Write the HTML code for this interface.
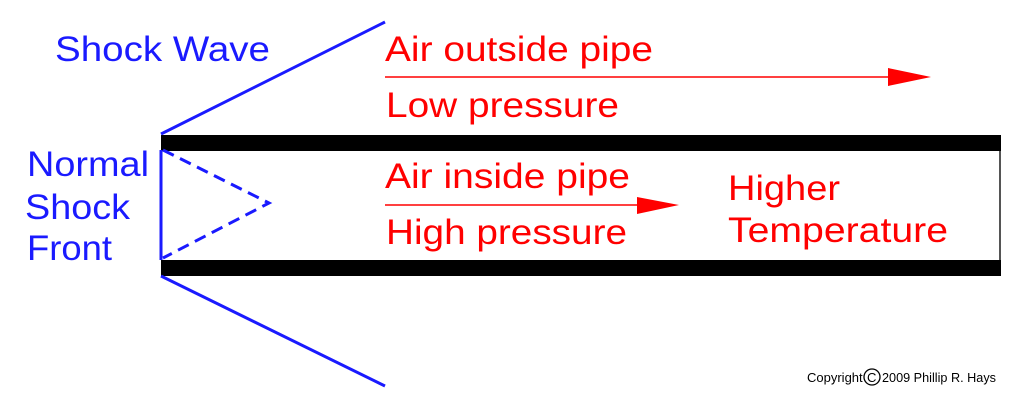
<!DOCTYPE html>
<html><head><meta charset="utf-8"><style>html,body{margin:0;padding:0;background:#fff}svg{display:block}</style></head>
<body>
<svg width="1024" height="408" viewBox="0 0 1024 408" xmlns="http://www.w3.org/2000/svg" font-family="'Liberation Sans', sans-serif">
<rect width="1024" height="408" fill="#fff"/>
<rect x="161" y="135" width="840" height="16" fill="#000"/>
<rect x="161" y="260" width="840" height="16" fill="#000"/>
<line x1="1000" y1="151" x2="1000" y2="260" stroke="#555" stroke-width="2"/>
<g stroke="#1a1aff" stroke-width="3" fill="none">
<line x1="161" y1="134" x2="385" y2="22"/>
<line x1="161" y1="276" x2="385" y2="386"/>
<line x1="161" y1="150" x2="161" y2="260"/>
<polyline points="163,150 269,203 163,258" stroke-dasharray="12,7"/>
</g>
<line x1="385" y1="77" x2="892" y2="77" stroke="#f00" stroke-width="1.5"/>
<polygon points="888,68 931,77 888,86" fill="#f00"/>
<line x1="385" y1="205" x2="640" y2="205" stroke="#f00" stroke-width="1.5"/>
<polygon points="637,197 679,205 637,214" fill="#f00"/>
<g fill="#1a1aff" font-size="35">
<text x="55" y="61" textLength="215" lengthAdjust="spacingAndGlyphs">Shock Wave</text>
<text x="27" y="176" textLength="122" lengthAdjust="spacingAndGlyphs">Normal</text>
<text x="25" y="219" textLength="105" lengthAdjust="spacingAndGlyphs">Shock</text>
<text x="27" y="260" textLength="85" lengthAdjust="spacingAndGlyphs">Front</text>
</g>
<g fill="#f00" font-size="35">
<text x="385" y="61" textLength="268" lengthAdjust="spacingAndGlyphs">Air outside pipe</text>
<text x="386" y="117" textLength="233" lengthAdjust="spacingAndGlyphs">Low pressure</text>
<text x="385" y="188" textLength="245" lengthAdjust="spacingAndGlyphs">Air inside pipe</text>
<text x="386" y="244" textLength="241" lengthAdjust="spacingAndGlyphs">High pressure</text>
<text x="728" y="200" textLength="112" lengthAdjust="spacingAndGlyphs">Higher</text>
<text x="728" y="242" textLength="220" lengthAdjust="spacingAndGlyphs">Temperature</text>
</g>
<g fill="#000" font-size="13">
<text x="807" y="382">Copyright</text>
<circle cx="872" cy="377" r="8" fill="none" stroke="#000" stroke-width="1.3"/>
<text x="867" y="382">C</text>
<text x="882" y="382" textLength="114" lengthAdjust="spacingAndGlyphs">2009 Phillip R. Hays</text>
</g>
</svg>
</body></html>
